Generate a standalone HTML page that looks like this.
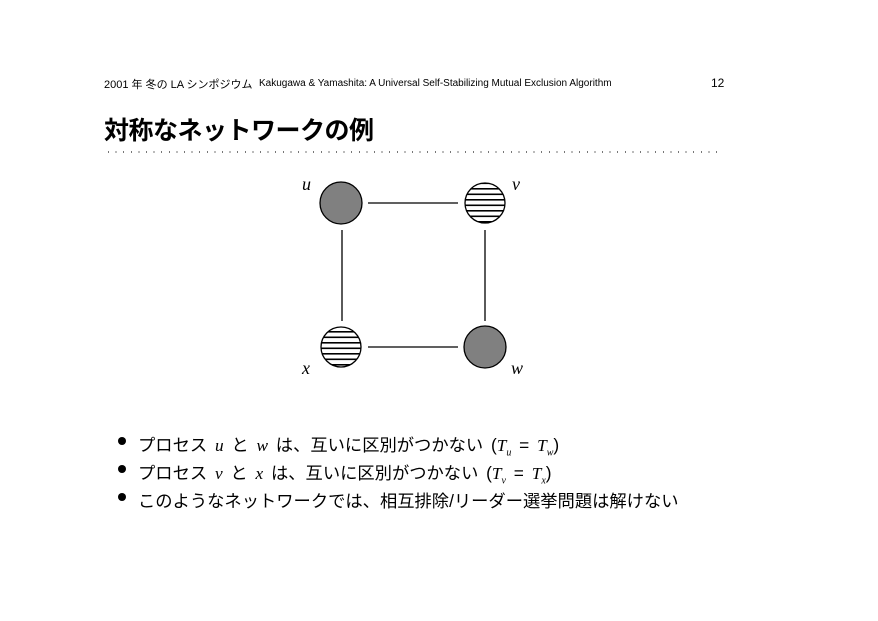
<!DOCTYPE html>
<html><head><meta charset="utf-8"><style>
body{margin:0;background:#fff;width:878px;height:621px;overflow:hidden;position:relative;font-family:"Liberation Sans","Noto Sans CJK JP",sans-serif;color:#000}
.a{position:absolute;white-space:nowrap}
.m{font-family:"Liberation Serif",serif;font-style:italic}
.b{position:absolute;left:118px;width:8px;height:8px;border-radius:50%;background:#000}
</style></head><body>
<div class="a" style="left:104px;top:76px;font-size:11px">2001 年 冬の LA シンポジウム</div>
<div class="a" style="left:259px;top:78px;font-size:10px">Kakugawa &amp; Yamashita: A Universal Self-Stabilizing Mutual Exclusion Algorithm</div>
<div class="a" style="left:711px;top:76px;font-size:12px">12</div>
<div class="a" style="left:104px;top:111px;font-size:25px;font-weight:bold;letter-spacing:-0.5px">対称なネットワークの例</div>
<div class="a" style="left:108px;top:151px;width:614px;height:2px;background:repeating-linear-gradient(90deg,#777 0 1px,transparent 1px 7.6px)"></div>
<svg class="a" style="left:0;top:0" width="878" height="621">
<defs><pattern id="s" width="4" height="5.5" patternUnits="userSpaceOnUse" y="1"><rect width="4" height="5.5" fill="#fff"/><rect width="4" height="1.6" fill="#000"/></pattern></defs>
<g stroke="#000" stroke-width="1.3">
<line x1="368" y1="203" x2="458" y2="203"/><line x1="368" y1="347" x2="458" y2="347"/>
<line x1="342" y1="230" x2="342" y2="321"/><line x1="485" y1="230" x2="485" y2="321"/>
<circle cx="341" cy="203" r="21" fill="#808080"/>
<circle cx="485" cy="203" r="20" fill="url(#s)"/>
<circle cx="341" cy="347" r="20" fill="url(#s)"/>
<circle cx="485" cy="347" r="21" fill="#808080"/>
</g>
<g font-family="Liberation Serif,serif" font-style="italic" font-size="18">
<text x="302" y="190">u</text><text x="512" y="190">v</text>
<text x="302" y="374">x</text><text x="511" y="374">w</text></g>
</svg>
<div class="b" style="top:437px"></div><div class="b" style="top:465px"></div><div class="b" style="top:493px"></div>
<div class="a" style="left:138px;top:431px;font-size:17.3px;word-spacing:3px">プロセス <span class="m">u</span> と <span class="m">w</span> は、互いに区別がつかない (<span class="m">T<sub style="font-size:10px">u</sub></span> = <span class="m">T<sub style="font-size:10px">w</sub></span>)</div>
<div class="a" style="left:138px;top:459px;font-size:17.3px;word-spacing:3px">プロセス <span class="m">v</span> と <span class="m">x</span> は、互いに区別がつかない (<span class="m">T<sub style="font-size:10px">v</sub></span> = <span class="m">T<sub style="font-size:10px">x</sub></span>)</div>
<div class="a" style="left:138px;top:487px;font-size:17.3px">このようなネットワークでは、相互排除/リーダー選挙問題は解けない</div>
</body></html>
